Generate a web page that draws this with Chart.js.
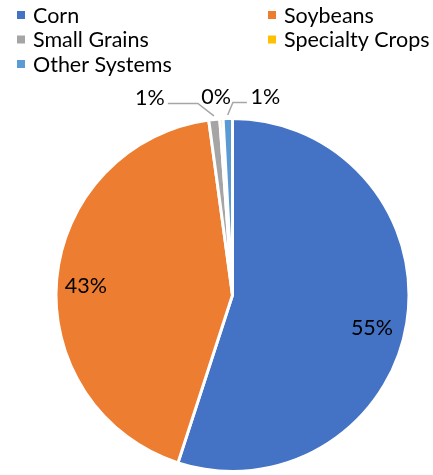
<!DOCTYPE html>
<html>
<head>
<meta charset="utf-8">
<script src="https://cdn.jsdelivr.net/npm/chart.js@4/dist/chart.umd.min.js"></script>
<style>
    html, body { margin: 0; padding: 0; background: #fff; }
</style>
</head>
<body>
<canvas id="c" width="433" height="475"></canvas>
<script>
// data
var categories = ['Corn', 'Soybeans', 'Small Grains', 'Specialty Crops', 'Other Systems'];
var shares = [55.0, 42.85, 1.0, 0.3, 0.85];
var colors = ['#4472C4', '#ED7D31', '#A5A5A5', '#FFC000', '#5B9BD5'];

// label placement: r = fraction of radius, dx/dy = nudge, line = leader elbow/end offsets
var labelStyle = [
    { r: 0.8, dx: 0, dy: 11 },
    { r: 0.84, dx: 1, dy: 4 },
    { r: 1.02, dx: -64, dy: -17.5, line: [-16, -12.5, -46, -12.5] },
    { r: 1.02, dx: -5, dy: -18 },
    { r: 1.02, dx: 37.7, dy: -17.5, line: [5.2, -12.5, 19.2, -12.5] }
];

var FONT = '21.5px Lato';

var total = shares.reduce(function (a, b) { return a + b; }, 0);

var sliceLabels = {
    id: 'sliceLabels',
    afterDatasetsDraw: function (chart) {
        var ctx = chart.ctx;
        var arcs = chart.getDatasetMeta(0).data;
        ctx.save();
        ctx.font = FONT;
        ctx.textAlign = 'center';
        ctx.textBaseline = 'middle';
        arcs.forEach(function (arc, i) {
            var p = arc.getProps(['x', 'y', 'startAngle', 'endAngle', 'outerRadius']);
            var mid = (p.startAngle + p.endAngle) / 2;
            var s = labelStyle[i];
            var ax = p.x + Math.cos(mid) * p.outerRadius * s.r;
            var ay = p.y + Math.sin(mid) * p.outerRadius * s.r;
            if (s.line) {
                ctx.strokeStyle = '#A6A6A6';
                ctx.lineWidth = 1.5;
                ctx.beginPath();
                ctx.moveTo(ax, ay);
                ctx.lineTo(ax + s.line[0], ay + s.line[1]);
                ctx.lineTo(ax + s.line[2], ay + s.line[3]);
                ctx.stroke();
            }
            ctx.fillStyle = '#000';
            var pct = Math.round(chart.data.datasets[0].data[i] / total * 100) + '%';
            ctx.fillText(pct, ax + s.dx, ay + s.dy);
        });
        ctx.restore();
    }
};

var topLegend = {
    id: 'topLegend',
    afterDraw: function (chart) {
        var ctx = chart.ctx;
        ctx.save();
        ctx.font = FONT;
        ctx.textAlign = 'left';
        ctx.textBaseline = 'alphabetic';
        chart.data.labels.forEach(function (name, i) {
            var x = i % 2 === 0 ? 17 : 268;
            var y = 15 + Math.floor(i / 2) * 24.5;
            ctx.fillStyle = colors[i];
            ctx.fillRect(x, y - 4, 8, 8);
            ctx.fillStyle = '#000';
            ctx.fillText(name, x + 16, y + 7.5);
        });
        ctx.restore();
    }
};

var ctx = document.getElementById('c').getContext('2d');
var myPieChart = new Chart(ctx, {
    type: 'pie',
    data: {
        labels: categories,
        datasets: [{
            data: shares,
            backgroundColor: colors,
            borderColor: '#ffffff',
            borderWidth: 3,
            offset: 0,
            hoverOffset: 0
        }]
    },
    options: {
        responsive: false,
        animation: false,
        layout: { padding: { top: 117, bottom: 2, left: 32, right: 0 } },
        plugins: {
            legend: { display: false },
            tooltip: { enabled: false }
        }
    },
    plugins: [sliceLabels, topLegend]
});
</script>
</body>
</html>
